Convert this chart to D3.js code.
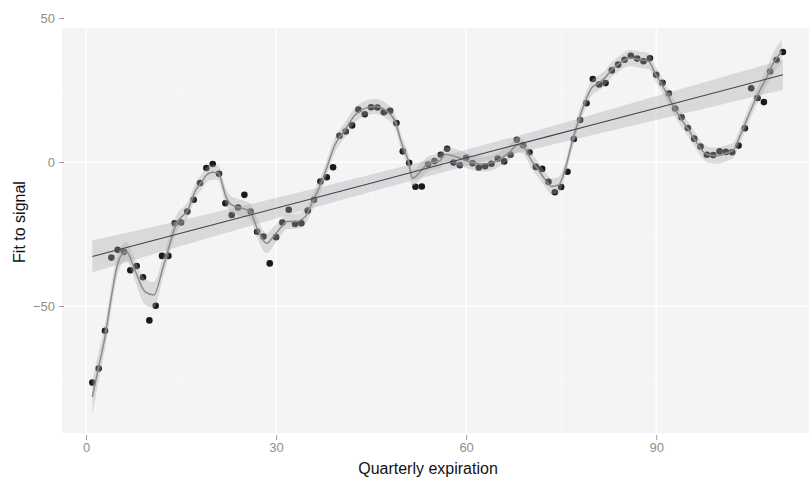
<!DOCTYPE html>
<html><head><meta charset="utf-8">
<script src="https://cdn.jsdelivr.net/npm/d3@7/dist/d3.min.js"></script>
<style>body{margin:0;background:#fff}svg{display:block}</style>
</head><body>
<svg id="c" width="809" height="479"></svg>
<script>
// observed signal, one value per quarter (1..110)
const signal = [-76.6,-71.7,-58.6,-33.2,-30.5,-31.2,-37.6,-36.1,-40.0,-55.0,
-49.9,-32.6,-32.6,-21.3,-21.0,-17.2,-13.1,-7.3,-2.1,-0.7,
-4.1,-14.3,-18.4,-15.8,-11.4,-17.2,-24.2,-25.9,-35.2,-26.1,
-21.0,-16.6,-21.5,-21.3,-16.9,-13.1,-6.8,-5.3,-1.8,9.1,
10.6,12.7,18.2,16.6,19.0,18.9,17.3,17.8,13.5,3.7,
-0.3,-8.6,-8.5,-0.9,0.3,2.5,4.6,-0.2,-1.1,1.5,
-0.4,-1.9,-1.5,-0.6,1.2,0.2,2.5,7.7,5.8,3.4,
-1.7,-2.4,-6.9,-10.5,-8.7,-3.4,8.0,14.6,20.4,28.8,
26.9,27.4,31.8,33.8,35.5,36.9,35.9,35.0,36.0,30.3,
27.5,23.8,18.6,15.5,11.8,8.1,5.4,2.5,2.4,3.7,
3.5,3.4,5.7,11.7,25.6,22.2,20.8,31.4,35.4,38.2];
const quarter = signal.map((d, i) => i + 1);

// local (loess) smooth
const smoothX = [1.0,2.0,3.0,4.1,4.9,5.6,6.4,7.5,9.3,10.7,12.2,14.3,16.1,17.2,18.3,19.3,20.1,20.8,22.2,23.0,
24.1,25.9,27.0,28.5,29.8,30.9,31.7,33.0,34.6,35.9,36.9,37.7,39.3,40.9,42.5,44.1,45.7,47.3,48.8,49.8,
50.9,51.5,51.9,53.0,54.0,55.9,56.7,58.3,60.4,62.5,64.6,66.7,68.2,69.0,70.4,71.4,72.5,73.5,74.6,75.6,
76.7,77.7,78.8,79.8,80.9,81.9,83.0,84.3,85.9,87.5,88.8,89.8,90.9,91.9,93.0,94.0,95.1,96.1,97.2,98.2,
99.6,101.1,102.2,103.2,104.3,105.3,106.4,107.5,108.5,109.8];
const smoothY = [-81.6,-71.1,-60.7,-45.6,-36.3,-32.3,-31.1,-36.3,-45.0,-46.2,-36.3,-21.3,-16.5,-10.3,-6.8,-4.0,-3.6,-3.7,-12.6,-14.9,
-15.7,-17.2,-23.0,-28.2,-25.3,-22.4,-20.7,-20.7,-19.0,-13.1,-8.5,-3.9,6.0,11.2,16.4,18.7,19.3,17.9,14.1,6.6,
0.2,-5.6,-5.3,-2.7,-0.6,0.5,2.7,1.9,0.2,-0.7,0.2,3.1,6.0,5.4,0.2,-2.7,-6.2,-8.5,-8.0,-2.7,
6.6,14.1,21.0,25.7,27.4,29.2,32.1,34.4,36.1,35.5,35.0,30.9,26.9,22.8,18.2,14.7,11.2,7.7,4.2,2.5,
2.2,3.1,4.2,8.9,14.7,19.9,25.1,29.7,34.4,38.4];
const smoothSE = [6,5,4.5,4,3.5,3.2,3.2,3.5,4.5,4.5,3.5,3,2.8,2.6,2.6,2.6,2.6,2.6,2.8,2.8,
2.8,2.8,3.2,3.5,3.2,2.8,2.6,2.6,2.6,2.6,2.6,2.6,2.6,2.6,2.6,2.6,2.6,2.6,2.6,2.6,
2.6,2.8,2.8,2.6,2.6,2.6,2.6,2.6,2.6,2.6,2.6,2.6,2.6,2.6,2.6,2.6,2.6,2.8,2.8,2.6,
2.6,2.6,2.6,2.6,2.6,2.6,2.6,2.6,2.8,2.8,2.8,2.6,2.6,2.6,2.6,2.6,2.6,2.6,2.6,2.8,
2.8,2.8,2.6,2.6,2.6,2.6,2.8,3,3.5,4];

// linear fit
const linX = [1, 19, 37, 55, 73, 91, 110];
const linY = [-32.8, -22.4, -12.0, -1.5, 8.9, 19.3, 30.3];
const linSE = [5.5, 4.2, 3.2, 2.8, 3.2, 4.2, 5.2];

const xTicks = [0, 30, 60, 90];
const xMinor = [15, 45, 75, 105];
const yTicks = [-50, 0, 50];
const yMinor = [-75, -25, 25];

const svg = d3.select("#c");
const W = 809, H = 479;
const panel = {x0: 62, x1: 809, y0: 28, y1: 433};

const x = d3.scaleLinear().domain([0, 110]).range([86, 782.9]);
const y = d3.scaleLinear().domain([-50, 50]).range([306, 18]);

svg.append("rect").attr("width", W).attr("height", H).attr("fill", "#ffffff");
svg.append("rect").attr("x", panel.x0).attr("y", panel.y0)
  .attr("width", panel.x1 - panel.x0).attr("height", panel.y1 - panel.y0)
  .attr("fill", "#f4f4f6");

const grid = svg.append("g");
grid.selectAll(".vm").data(xMinor).join("line")
  .attr("x1", d => x(d)).attr("x2", d => x(d)).attr("y1", panel.y0).attr("y2", panel.y1)
  .attr("stroke", "#fafafa").attr("stroke-width", 0.8);
grid.selectAll(".hm").data(yMinor).join("line")
  .attr("y1", d => y(d)).attr("y2", d => y(d)).attr("x1", panel.x0).attr("x2", panel.x1)
  .attr("stroke", "#fafafa").attr("stroke-width", 0.8);
grid.selectAll(".vM").data(xTicks).join("line")
  .attr("x1", d => x(d)).attr("x2", d => x(d)).attr("y1", panel.y0).attr("y2", panel.y1)
  .attr("stroke", "#ffffff").attr("stroke-width", 1.4);
grid.selectAll(".hM").data(yTicks.filter(d => y(d) > panel.y0)).join("line")
  .attr("y1", d => y(d)).attr("y2", d => y(d)).attr("x1", panel.x0).attr("x2", panel.x1)
  .attr("stroke", "#ffffff").attr("stroke-width", 1.4);

// points
svg.append("g").selectAll("circle").data(signal).join("circle")
  .attr("cx", (d, i) => x(quarter[i])).attr("cy", d => y(d)).attr("r", 3.3)
  .attr("fill", "#1a1a1a");

const smooth = smoothX.map((v, i) => ({x: v, y: smoothY[i], se: smoothSE[i]}));
const lin = linX.map((v, i) => ({x: v, y: linY[i], se: linSE[i]}));

const area = d3.area().x(d => x(d.x)).y0(d => y(d.y - d.se)).y1(d => y(d.y + d.se))
  .curve(d3.curveMonotoneX);
const line = d3.line().x(d => x(d.x)).y(d => y(d.y)).curve(d3.curveMonotoneX);

svg.append("path").datum(smooth).attr("d", area).attr("fill", "#aaaaaa").attr("fill-opacity", 0.36);
svg.append("path").datum(lin).attr("d", area).attr("fill", "#aaaaaa").attr("fill-opacity", 0.36);
svg.append("path").datum(smooth).attr("d", line).attr("fill", "none")
  .attr("stroke", "#8c8c8c").attr("stroke-width", 1.5);
svg.append("path").datum(lin).attr("d", line).attr("fill", "none")
  .attr("stroke", "#34475a").attr("stroke-width", 1.1);

// axes
const font = "'Liberation Sans', Arial, sans-serif";
const gx = svg.append("g").attr("transform", `translate(0,${panel.y1 + 2})`)
  .call(d3.axisBottom(x).tickValues(xTicks).tickSize(5).tickPadding(3));
const gy = svg.append("g").attr("transform", `translate(64,0)`)
  .call(d3.axisLeft(y).tickValues(yTicks).tickSize(5).tickPadding(4));
[gx, gy].forEach(g => {
  g.select(".domain").remove();
  g.selectAll(".tick line").attr("stroke", "#a0a0a0");
  g.selectAll(".tick text").attr("fill", "#8e8e8e").style("font-family", font).style("font-size", "13px");
});

svg.append("text").attr("x", 428).attr("y", 474).attr("text-anchor", "middle")
  .style("font-family", font).style("font-size", "16px").attr("fill", "#111")
  .text("Quarterly expiration");
svg.append("text").attr("transform", "translate(25,222) rotate(-90)").attr("text-anchor", "middle")
  .style("font-family", font).style("font-size", "16px").attr("fill", "#111")
  .text("Fit to signal");
</script>
</body></html>
